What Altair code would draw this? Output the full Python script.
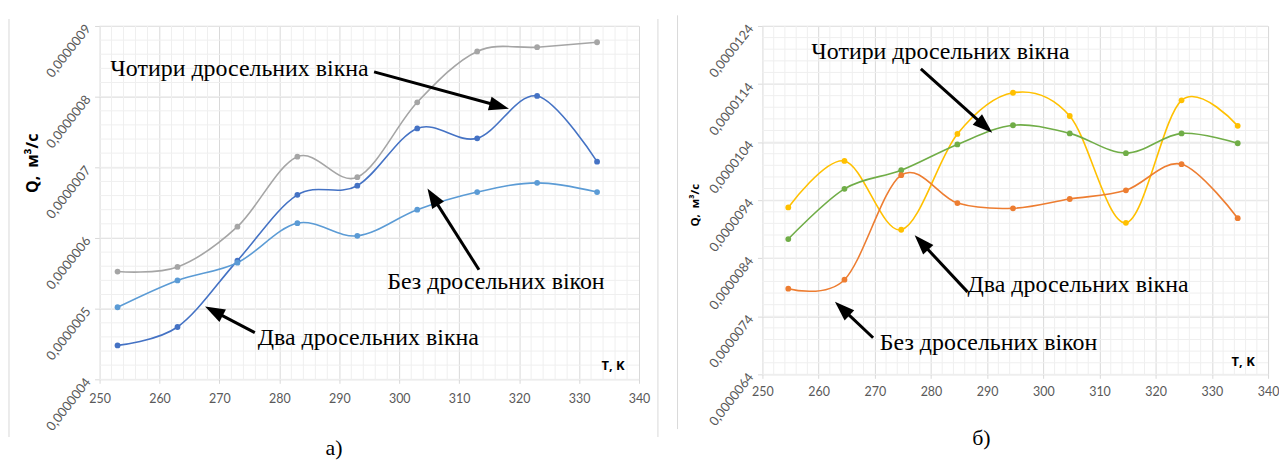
import math
import altair as alt
import numpy as np
import pandas as pd

# ---------------- panel а) ----------------
T_A = [253, 263, 273, 283, 293, 303, 313, 323, 333]
Q_A_GRAY = [5.525e-7, 5.59e-7, 6.16e-7, 7.15e-7, 6.86e-7, 7.92e-7, 8.64e-7, 8.70e-7, 8.77e-7]
Q_A_DARK = [4.48e-7, 4.74e-7, 5.68e-7, 6.61e-7, 6.74e-7, 7.55e-7, 7.41e-7, 8.01e-7, 7.08e-7]
Q_A_LIGHT = [5.02e-7, 5.40e-7, 5.65e-7, 6.21e-7, 6.03e-7, 6.40e-7, 6.65e-7, 6.78e-7, 6.65e-7]
X_TICKS = [250, 260, 270, 280, 290, 300, 310, 320, 330, 340]
Y_TICKS_A = [4e-7, 5e-7, 6e-7, 7e-7, 8e-7, 9e-7]

# ---------------- panel б) ----------------
T_B = [254.6, 264.6, 274.7, 284.7, 294.6, 304.7, 314.7, 324.6, 334.6]
Q_B_YELLOW = [9.275e-6, 10.075e-6, 8.89e-6, 10.54e-6, 11.25e-6, 10.85e-6, 9.01e-6, 11.12e-6, 10.68e-6]
Q_B_GREEN = [8.73e-6, 9.595e-6, 9.915e-6, 10.36e-6, 10.69e-6, 10.55e-6, 10.21e-6, 10.55e-6, 10.38e-6]
Q_B_ORANGE = [7.875e-6, 8.03e-6, 9.83e-6, 9.35e-6, 9.26e-6, 9.42e-6, 9.57e-6, 10.02e-6, 9.09e-6]
Y_TICKS_B = [6.4e-6, 7.4e-6, 8.4e-6, 9.4e-6, 10.4e-6, 11.4e-6, 12.4e-6]

LABEL_4 = "Чотири дросельних вікна"
LABEL_2 = "Два дросельних вікна"
LABEL_0 = "Без дросельних вікон"

# annotations: text, text-left (T, Q), arrow start (T, Q), arrow tip (T, Q)
ANN_A = [
    (LABEL_4, 251.8, 8.39e-7, 295.8, 8.35e-7, 318.3, 7.83e-7),
    (LABEL_0, 298.0, 5.38e-7, 313.3, 5.55e-7, 304.7, 6.70e-7),
    (LABEL_2, 276.4, 4.59e-7, 275.9, 4.66e-7, 267.6, 5.03e-7),
]
ANN_B = [
    (LABEL_4, 258.7, 11.95e-6, 278.2, 11.66e-6, 290.9, 10.56e-6),
    (LABEL_2, 286.5, 7.94e-6, 286.5, 7.82e-6, 277.1, 8.795e-6),
    (LABEL_0, 270.9, 6.94e-6, 269.7, 7.03e-6, 262.9, 7.65e-6),
]

GRID_MAJOR = "#d9d9d9"
GRID_MINOR = "#efefef"
TICK_FONT = "Lato"
SERIF = "Liberation Serif"
HEAD_PATH = "M0,0L0.7,2L-0.7,2Z"
Q_TITLE = "Q,\u2002м³/с"


def panel(T, series, colors, xdom, ydom, yticks, xminor, yminor, W, H, ann,
          border_rules, qtitle, ttitle, caption, label_pad_x):
    def to_px(t, q):
        return ((t - xdom[0]) / (xdom[1] - xdom[0]) * W,
                H - (q - ydom[0]) / (ydom[1] - ydom[0]) * H)

    def to_data(px, py):
        return (xdom[0] + px / W * (xdom[1] - xdom[0]),
                ydom[0] + (H - py) / H * (ydom[1] - ydom[0]))

    xs = alt.Scale(domain=xdom, nice=False, zero=False)
    ys = alt.Scale(domain=ydom, nice=False, zero=False)
    xaxis = alt.Axis(values=X_TICKS, title=None, labelFont=TICK_FONT, labelFontSize=12.5,
                     labelColor="#595959", labelPadding=label_pad_x, tickColor=GRID_MAJOR,
                     tickSize=4, domain=False, gridColor=GRID_MAJOR, labelFlush=False)
    yaxis = alt.Axis(values=yticks, title=None, labelFont=TICK_FONT, labelFontSize=13,
                     labelColor="#595959", labelPadding=7, tickColor=GRID_MAJOR, tickSize=5,
                     domain=False, gridColor=GRID_MAJOR, labelAngle=308, labelAlign="right",
                     labelBaseline="middle", labelFlush=False,
                     labelExpr="replace(format(datum.value, '.7f'), /[.]/, ',')")

    def X(f):
        return alt.X(f, type="quantitative", scale=xs, axis=xaxis)

    def Y(f):
        return alt.Y(f, type="quantitative", scale=ys, axis=yaxis)

    names = list(series.keys())
    rows = []
    for n in names:
        for t, q in zip(T, series[n]):
            rows.append({"T": t, "Q": q, "s": n})
    df = pd.DataFrame(rows)
    color = alt.Color("s:N", scale=alt.Scale(domain=names, range=colors), legend=None)

    vminor = pd.DataFrame({"T": xminor})
    hminor = pd.DataFrame({"Q": yminor})
    l_vminor = alt.Chart(vminor).mark_rule(color=GRID_MINOR, strokeWidth=1).encode(
        x=X("T"), y=alt.value(0), y2=alt.value(H))
    l_hminor = alt.Chart(hminor).mark_rule(color=GRID_MINOR, strokeWidth=1).encode(
        y=Y("Q"), x=alt.value(0), x2=alt.value(W))

    lines = alt.Chart(df).mark_line(interpolate="cardinal", tension=0, strokeWidth=1.6).encode(
        x=X("T"), y=Y("Q"), color=color, detail="s:N")
    pts = alt.Chart(df).mark_circle(size=34, opacity=1).encode(x=X("T"), y=Y("Q"), color=color)

    trows, srows, hrows = [], [], []
    for text, tx, ty, sx, sy, ex, ey in ann:
        trows.append({"T": tx, "Q": ty, "label": text})
        p0 = to_px(sx, sy)
        p1 = to_px(ex, ey)
        dx, dy = p1[0] - p0[0], p1[1] - p0[1]
        L = math.hypot(dx, dy)
        ux, uy = dx / L, dy / L
        se = to_data(p1[0] - ux * 12, p1[1] - uy * 12)
        srows.append({"T": sx, "Q": sy, "T2": se[0], "Q2": se[1]})
        ang = math.degrees(math.atan2(dx, -dy)) % 360
        hrows.append({"T": ex, "Q": ey, "ang": ang})

    texts = alt.Chart(pd.DataFrame(trows)).mark_text(
        font=SERIF, fontSize=24, align="left", baseline="middle", color="black").encode(
        x=X("T"), y=Y("Q"), text="label:N")
    shafts = alt.Chart(pd.DataFrame(srows)).mark_rule(color="black", strokeWidth=3).encode(
        x=X("T"), y=Y("Q"), x2="T2:Q", y2="Q2:Q")
    heads = alt.Chart(pd.DataFrame(hrows)).mark_point(
        shape=HEAD_PATH, filled=True, size=400, color="black", opacity=1, strokeWidth=0).encode(
        x=X("T"), y=Y("Q"), angle=alt.Angle("ang:Q", scale=None))

    one = pd.DataFrame({"k": [0]})
    layers = [l_vminor, l_hminor, lines, pts, shafts, heads, texts]
    for (bx, by0, by1) in border_rules:
        layers.append(alt.Chart(one).mark_rule(color=GRID_MAJOR, strokeWidth=1).encode(
            x=alt.value(bx), y=alt.value(by0), y2=alt.value(by1)))
    qx, qy, qsize = qtitle
    layers.append(alt.Chart(one).mark_text(
        font="Open Sans", fontWeight="bold", fontSize=qsize, angle=270, color="black",
        align="center", baseline="middle").encode(
        x=alt.value(qx), y=alt.value(qy), text=alt.value(Q_TITLE)))
    tx_, ty_ = ttitle
    layers.append(alt.Chart(one).mark_text(
        font="Open Sans", fontWeight="bold", fontSize=13, color="black",
        align="center", baseline="middle").encode(
        x=alt.value(tx_), y=alt.value(ty_), text=alt.value("T, K")))
    cx, cy, ctext = caption
    layers.append(alt.Chart(one).mark_text(
        font=SERIF, fontSize=22, color="black", align="center", baseline="middle").encode(
        x=alt.value(cx), y=alt.value(cy), text=alt.value(ctext)))

    return alt.layer(*layers).properties(width=W, height=H)


minor_x = [v for v in np.arange(250, 340.01, 2.0) if abs(v % 10) > 1e-6]
minor_ya = [v for v in np.arange(4e-7, 9e-7 + 1e-12, 0.2e-7)]
minor_yb = [v for v in np.arange(6.4e-6, 12.4e-6 + 1e-12, 0.2e-6)]

pa = panel(
    T_A,
    {"Сірий": Q_A_GRAY, "Синій": Q_A_DARK, "Блакитний": Q_A_LIGHT},
    ["#A5A5A5", "#4472C4", "#5B9BD5"],
    [250, 340], [4e-7, 9e-7], Y_TICKS_A, minor_x, minor_ya, 542, 355, ANN_A,
    [(-91, -7, 413), (561, -7, 413)],
    (-66.5, 138, 16), (516, 342), (235.5, 424, "а)"), 9)

pb = panel(
    T_B,
    {"Жовтий": Q_B_YELLOW, "Зелений": Q_B_GREEN, "Помаранчевий": Q_B_ORANGE},
    ["#FFC000", "#70AD47", "#ED7D31"],
    [250, 340], [6.4e-6, 12.4e-6], Y_TICKS_B, minor_x, minor_yb, 508, 350, ANN_B,
    [(-85.3, -10.7, 405)],
    (-66.5, 180, 11.5), (483, 338), (220, 414, "б)"), 7)

chart = alt.hconcat(pa, pb, spacing=18).resolve_scale(color="independent").properties(
    padding={"left": 0, "top": 5, "right": 0, "bottom": 0}
).configure_view(stroke=None)

chart.save("out.html", embed_options={"renderer": "svg", "actions": False})
